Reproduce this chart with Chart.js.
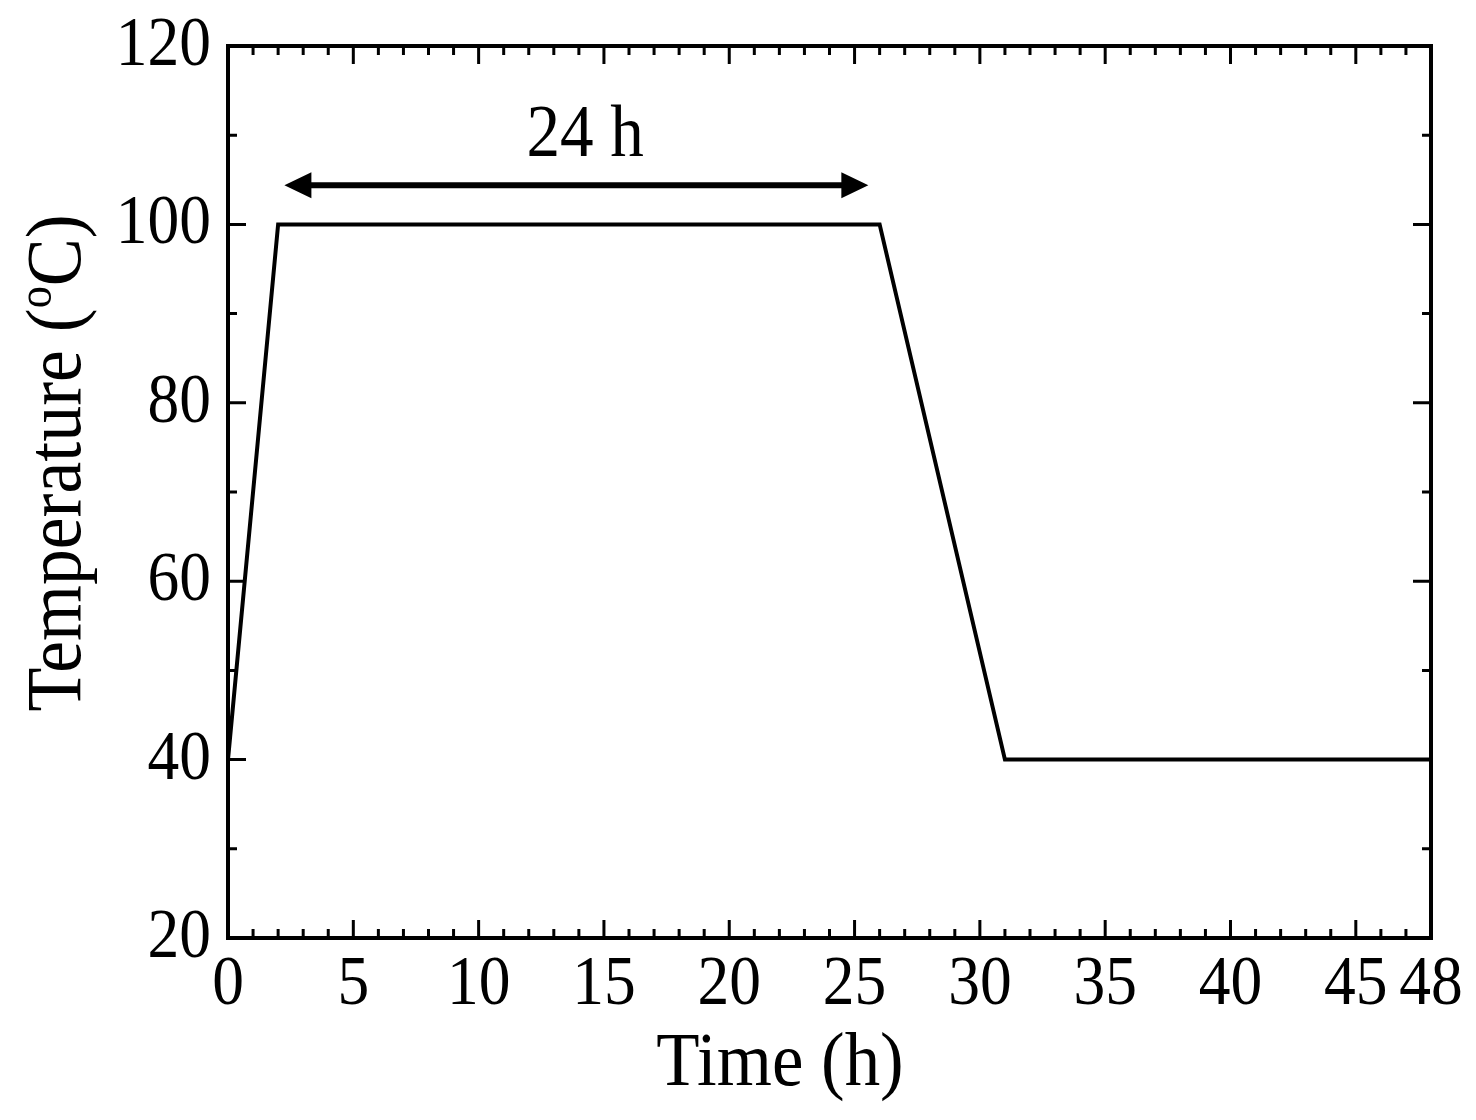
<!DOCTYPE html>
<html>
<head>
<meta charset="utf-8">
<script src="https://cdn.jsdelivr.net/npm/chart.js@4"></script>
<style>
html,body{margin:0;padding:0;background:#fff;}
#wrap{width:1476px;height:1120px;position:relative;}
</style>
</head>
<body>
<div id="wrap"><canvas id="tempChart"></canvas></div>
<script>
const timeHours = [0, 2, 26, 31, 48];
const temperatureC = [40, 100, 100, 40, 40];
const xTickValues = [0, 5, 10, 15, 20, 25, 30, 35, 40, 45, 48];
const yTickValues = [20, 40, 60, 80, 100, 120];
const arrowSpan = [2.25, 25.55];
const arrowLevel = 104.4;
const spanLabel = "24 h";
const spanLabelPos = [14.25, 110.5];
const xTitle = "Time (h)";
const yTitleParts = ["Temperature (", "o", "C)"];

const FONT = "'Liberation Serif','Times New Roman',serif";
const SQUEEZE = 0.92; // the original type is a bit narrow

function drawText(ctx, text, x, y, size, align){
ctx.save();
ctx.translate(x, y);
ctx.scale(SQUEEZE, 1);
ctx.font = size + "px " + FONT;
ctx.textAlign = align;
ctx.textBaseline = "alphabetic";
ctx.fillText(text, 0, 0);
ctx.restore();
}

// frame, inward ticks on all four sides, labels, arrow
const framePlugin = {
id: "frame",
afterDatasetsDraw(chart){
const ctx = chart.ctx;
const a = chart.chartArea;
const xs = chart.scales.x, ys = chart.scales.y;
ctx.save();
ctx.strokeStyle = "#000";
ctx.fillStyle = "#000";
ctx.lineWidth = 4;
ctx.strokeRect(a.left, a.top, a.right - a.left, a.bottom - a.top);
ctx.lineWidth = 3;
ctx.beginPath();
for(let v = 1; v < 48; v++){
let px = xs.getPixelForValue(v);
let len = v % 5 === 0 ? 18 : 9;
ctx.moveTo(px, a.bottom); ctx.lineTo(px, a.bottom - len);
ctx.moveTo(px, a.top); ctx.lineTo(px, a.top + len);
}
for(let v = 30; v < 120; v += 10){
let py = ys.getPixelForValue(v);
let len = v % 20 === 0 ? 18 : 9;
ctx.moveTo(a.left, py); ctx.lineTo(a.left + len, py);
ctx.moveTo(a.right, py); ctx.lineTo(a.right - len, py);
}
ctx.stroke();

// tick labels
xTickValues.forEach(v => drawText(ctx, String(v), xs.getPixelForValue(v), a.bottom + 66, 69, "center"));
yTickValues.forEach(v => drawText(ctx, String(v), a.left - 17, ys.getPixelForValue(v) + 19, 69, "right"));

// double arrow
let x1 = xs.getPixelForValue(arrowSpan[0]);
let x2 = xs.getPixelForValue(arrowSpan[1]);
let y = ys.getPixelForValue(arrowLevel);
ctx.lineWidth = 6;
ctx.beginPath();
ctx.moveTo(x1 + 15, y); ctx.lineTo(x2 - 15, y);
ctx.stroke();
ctx.beginPath();
ctx.moveTo(x1, y); ctx.lineTo(x1 + 27, y - 13); ctx.lineTo(x1 + 27, y + 13); ctx.closePath();
ctx.moveTo(x2, y); ctx.lineTo(x2 - 27, y - 13); ctx.lineTo(x2 - 27, y + 13); ctx.closePath();
ctx.fill();

drawText(ctx, spanLabel, xs.getPixelForValue(spanLabelPos[0]), ys.getPixelForValue(spanLabelPos[1]) + 25, 73, "center");

// axis titles
drawText(ctx, xTitle, a.left + 552, a.bottom + 147, 77, "center");

ctx.translate(80, (a.top + a.bottom) / 2 - 29);
ctx.rotate(-Math.PI / 2);
ctx.scale(SQUEEZE, 1);
ctx.textBaseline = "alphabetic";
ctx.textAlign = "left";
const sizes = [78, 48, 78], lifts = [0, -29, 0];
let total = 0;
yTitleParts.forEach((p, i) => { ctx.font = sizes[i] + "px " + FONT; total += ctx.measureText(p).width; });
let cx = -total / 2;
yTitleParts.forEach((p, i) => {
ctx.font = sizes[i] + "px " + FONT;
ctx.fillText(p, cx, lifts[i]);
cx += ctx.measureText(p).width;
});
ctx.restore();
}
};

new Chart(document.getElementById("tempChart"), {
type: "line",
data: {
datasets: [{
data: timeHours.map((t, i) => ({x: t, y: temperatureC[i]})),
borderColor: "#000",
borderWidth: 4,
pointRadius: 0,
fill: false,
tension: 0
}]
},
options: {
responsive: true,
maintainAspectRatio: false,
animation: false,
layout: {padding: {left: 0, right: 45, top: 46, bottom: 0}},
plugins: {legend: {display: false}, tooltip: {enabled: false}},
scales: {
x: {
type: "linear",
min: 0, max: 48,
afterFit: s => { s.height = 1120 - 938; },
grid: {display: false, drawTicks: false},
border: {display: false},
ticks: {display: false}
},
y: {
min: 20, max: 120,
afterFit: s => { s.width = 228; },
grid: {display: false, drawTicks: false},
border: {display: false},
ticks: {display: false}
}
}
},
plugins: [framePlugin]
});
</script>
</body>
</html>
